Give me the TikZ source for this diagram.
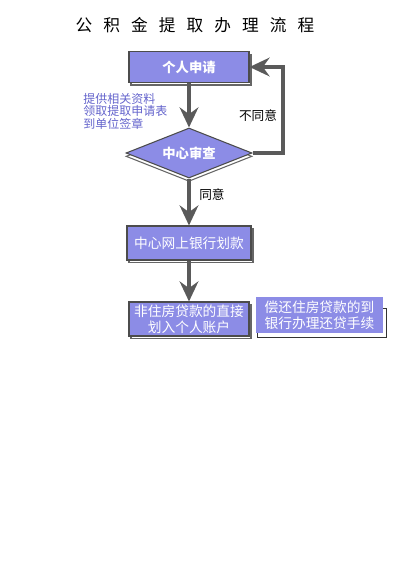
\documentclass[tikz,border=0pt]{standalone}
\usepackage{fontspec}
\newfontfamily\cjk{Noto Sans CJK SC}
\usetikzlibrary{arrows.meta,shapes.geometric,shadows,backgrounds}
\definecolor{boxfill}{HTML}{8C8CE6}
\definecolor{notecolor}{HTML}{6464CC}
\definecolor{arrowgray}{HTML}{5A5A5A}
\begin{document}
\begin{tikzpicture}
[x=0.75pt,y=-0.75pt,
  stepbox/.style={shape=rectangle,fill=boxfill,draw=black!70,thick,text=white,
    font=\cjk\fontsize{10.3}{12}\selectfont,align=center,inner sep=0pt,
    copy shadow={shadow xshift=1.5pt,shadow yshift=-2pt,fill=white,draw=black!60,thick}},%
  checkdecorate/.style={shape=diamond,fill=boxfill,draw=black!70,thick,text=white,
    font=\cjk\bfseries\fontsize{10}{12}\selectfont,inner sep=0pt,aspect=2.5,
    minimum width=94.5pt,minimum height=37.5pt,
    copy shadow={shadow xshift=0pt,shadow yshift=-2.5pt,fill=white,draw=black!60,thick}},%
  linedecorate/.style={-{Stealth[length=15pt,width=14pt,inset=5pt]},
    line width=3.5pt,draw=arrowgray},%
  labeldecorate/.style={font=\cjk\fontsize{9.5}{11}\selectfont,inner sep=0pt}]
\useasboundingbox (0,0) rectangle (400,569);
%% title
\node (title) at (195,25) [font=\cjk\fontsize{12.5}{14}\selectfont]
  {公\hspace{8.3pt}积\hspace{8.3pt}金\hspace{8.3pt}提\hspace{8.3pt}取\hspace{8.3pt}办\hspace{8.3pt}理\hspace{8.3pt}流\hspace{8.3pt}程};
%% nodes or boxes
\node (apply) at (189,67) [stepbox,minimum width=90pt,minimum height=23pt,
  font=\cjk\bfseries\fontsize{10}{12}\selectfont] {个人申请};
\node (check) at (189,153) [checkdecorate] {中心审查};
\node (pay) at (189,243) [stepbox,minimum width=93pt,minimum height=25.5pt] {中心网上银行划款};
\node (other) at (189,319) [stepbox,minimum width=90pt,minimum height=25.5pt]
  {非住房贷款的直接\\划入个人账户};
\node (house) at (319.5,315) [shape=rectangle,fill=boxfill,text=white,align=center,
  font=\cjk\fontsize{10.3}{12}\selectfont,inner sep=0pt,
  minimum width=95pt,minimum height=27pt] {偿还住房贷款的到\\银行办理还贷手续};
\begin{scope}[on background layer]
\draw[black!80,thick] ([xshift=1.5pt,yshift=-9pt]house.north west)
  rectangle ([xshift=2.25pt,yshift=-3pt]house.south east);
\end{scope}
%% texts
\node (papers) at (83,93) [labeldecorate,anchor=north west,align=left,text=notecolor,
  font=\cjk\fontsize{9}{9.4}\selectfont] {提供相关资料\\领取提取申请表\\到单位签章};
\node (refuse) at (258,116) [labeldecorate] {不同意};
\node (agree) at (212,195) [labeldecorate] {同意};
%% edges or lines
\coordinate (turn) at (283,100);
\path
\foreach \startnode/\endnode in {apply/check, check/pay, pay/other} {
  (\startnode) edge[linedecorate] (\endnode)
};
\draw[linedecorate,line width=2.5pt] (check.east) -- (check.east -| turn)
  -- (apply.east -| turn) -- (apply.east);
\end{tikzpicture}
\end{document}
